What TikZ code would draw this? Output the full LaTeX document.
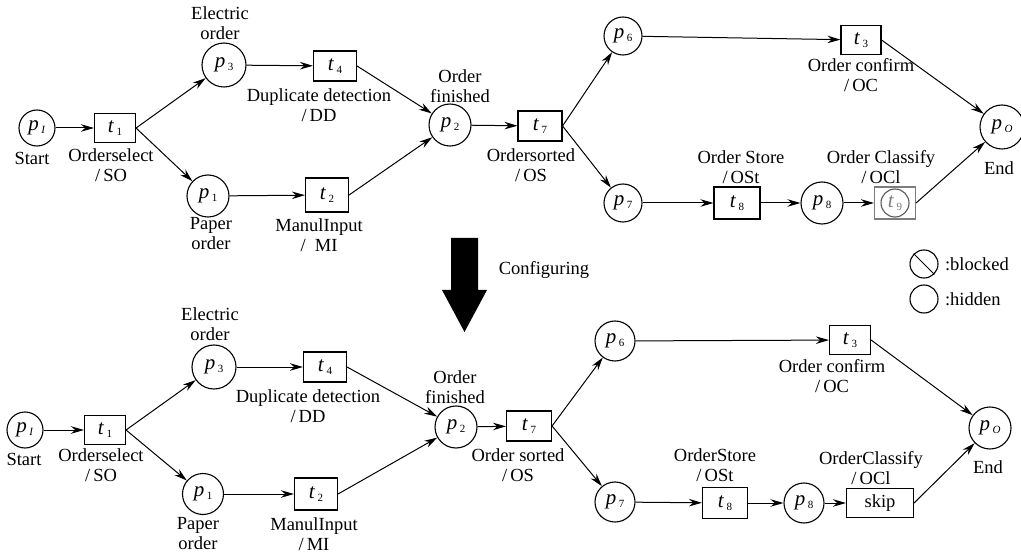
\documentclass[tikz,border=0pt]{standalone}
\usepackage{fontspec}
\setmainfont{Liberation Serif}
\usepackage{tikz}
\usetikzlibrary{arrows.meta,positioning,calc}
\definecolor{hiddengray}{RGB}{125,125,125}
\newcommand{\pn}[2]{\textit{\fontsize{21}{21}\selectfont #1}\kern2.5pt\raisebox{-3pt}{\fontsize{11}{11}\selectfont #2}}
\tikzset{
  place/.style={draw,circle,line width=1.1pt,minimum size=#1,inner sep=0pt},
  place/.default=40pt,
  trans/.style={draw,line width=1.1pt,minimum width=42pt,minimum height=30pt,inner sep=0pt},
  lab/.style={align=center,inner sep=0pt,font=\fontsize{18.5}{20}\selectfont},
  arc/.style={-{Stealth[length=13pt,width=7.5pt]},line width=1pt}
}
\begin{document}
\begin{tikzpicture}[x=1pt,y=-1pt,line width=1pt]
  \useasboundingbox (0,0) rectangle (1021,556);
  % upper net
  \node[place=36pt] (pi) at (37,128) {\pn{p}{\textit{I}}};
  \node[trans,minimum width=41pt,minimum height=29pt] (ta) at (115,128) {\pn{t}{1}};
  \node[place=44pt] (pc) at (224,65) {\pn{p}{3}};
  \node[trans,minimum width=43pt] (td) at (335,66) {\pn{t}{4}};
  \node[place=42pt] (pa) at (208,196) {\pn{p}{1}};
  \node[trans,minimum width=43pt,minimum height=34pt] (tb) at (327,195) {\pn{t}{2}};
  \node[place=42pt] (pb) at (450,125) {\pn{p}{2}};
  \node[trans,minimum width=44pt] (tg) at (540,126) {\pn{t}{7}};
  \node[place=38pt] (pf) at (623,36) {\pn{p}{6}};
  \node[place=38pt] (pg) at (623,203) {\pn{p}{7}};
  \node[trans,minimum width=40pt,minimum height=29pt] (tc) at (861,40) {\pn{t}{3}};
  \node[trans,minimum width=46pt,minimum height=32pt] (th) at (737,203) {\pn{t}{8}};
  \node[place=42pt] (ph) at (822,203) {\pn{p}{8}};
  \node[trans,draw=hiddengray,minimum width=41pt,minimum height=32pt] (ti) at (895,203) {};
  \node[place=28pt,draw=hiddengray!70!black,text=hiddengray] (tic) at (895,203) {\pn{t}{9}};
  \node[place=44pt] (po) at (1002,127) {\pn{p}{\textit{O}}};
  \draw[arc] (pi)--(ta);
  \draw[arc] (ta.east)--(pc);
  \draw[arc] (ta.east)--(pa);
  \draw[arc] (pc)--(td);
  \draw[arc] (pa)--(tb);
  \draw[arc] (td.east)--(pb);
  \draw[arc] (tb.east)--(pb);
  \draw[arc] (pb)--(tg);
  \draw[arc] (tg.east)--(pf);
  \draw[arc] (tg.east)--(pg);
  \draw[arc] (pf)--(tc);
  \draw[arc] (pg)--(th);
  \draw[arc] (th)--(ph);
  \draw[arc] (ph)--(ti);
  \draw[arc] (tc.east)--(po);
  \draw[arc] (ti.east)--(po);
  \node[lab] (lstart) at (32,158) {Start};
  \node[lab] (lta) at (111,165) {Orderselect\\/\,SO};
  \node[lab] (lpc) at (220,23) {Electric\\order};
  \node[lab] (ltd) at (319,105) {Duplicate detection\\/\,DD};
  \node[lab] (lpa) at (211,234) {Paper\\order};
  \node[lab] (ltb) at (319,235) {ManulInput\\/\ \ MI};
  \node[lab] (lpb) at (460,86) {Order\\finished};
  \node[lab] (ltg) at (531,165) {Ordersorted\\/\,OS};
  \node[lab] (ltc) at (861,75) {Order confirm\\/\,OC};
  \node[lab] (lth) at (741,167) {Order Store\\/\,OSt};
  \node[lab] (lti) at (881,167) {Order Classify\\/\,OCl};
  \node[lab] (lend) at (999,168) {End};
  % block arrow
  \fill (451,238)--(478,238)--(478,290)--(487,290)--(464.5,332)--(442,290)--(451,290)--cycle;
  \node[lab] (lconf) at (544,270) {Configuring};
  % legend
  \node[place=28pt] (bl) at (924,264) {};
  \draw (bl.135)--(bl.-45);
  \node[place=28pt] (hd) at (924,299) {};
  \node[lab,right=6pt of bl] (lbl) {:blocked};
  \node[lab,right=6pt of hd] (lhd) {:hidden};
  % lower net
  \node[place=36pt] (qi) at (25,430) {\pn{p}{\textit{I}}};
  \node[trans,minimum width=41pt,minimum height=29pt] (sa) at (105,430) {\pn{t}{1}};
  \node[place=44pt] (qc) at (214,367) {\pn{p}{3}};
  \node[trans,minimum width=43pt] (sd) at (325,367) {\pn{t}{4}};
  \node[place=41pt] (qa) at (203,494) {\pn{p}{1}};
  \node[trans,minimum width=43pt,minimum height=32pt] (sb) at (316,494) {\pn{t}{2}};
  \node[place=42pt] (qb) at (456,427) {\pn{p}{2}};
  \node[trans,minimum width=45pt] (sg) at (529,426) {\pn{t}{7}};
  \node[place=40pt] (qf) at (615,341) {\pn{p}{6}};
  \node[place=40pt] (qg) at (615,502) {\pn{p}{7}};
  \node[trans,minimum width=41pt,minimum height=29pt] (sc) at (850,340) {\pn{t}{3}};
  \node[trans,minimum width=45pt,minimum height=31pt] (sh) at (725,503) {\pn{t}{8}};
  \node[place=40pt] (qh) at (804,503) {\pn{p}{8}};
  \node[trans,minimum width=67pt,minimum height=29pt,font=\fontsize{18.5}{20}\selectfont] (si) at (880,503) {skip};
  \node[place=42pt] (qo) at (990,428) {\pn{p}{\textit{O}}};
  \draw[arc] (qi)--(sa);
  \draw[arc] (sa.east)--(qc);
  \draw[arc] (sa.east)--(qa);
  \draw[arc] (qc)--(sd);
  \draw[arc] (qa)--(sb);
  \draw[arc] (sd.east)--(qb);
  \draw[arc] (sb.east)--(qb);
  \draw[arc] (qb)--(sg);
  \draw[arc] (sg.east)--(qf);
  \draw[arc] (sg.east)--(qg);
  \draw[arc] (qf)--(sc);
  \draw[arc] (qg)--(sh);
  \draw[arc] (sh)--(qh);
  \draw[arc] (qh)--(si);
  \draw[arc] (sc.east)--(qo);
  \draw[arc] (si.east)--(qo);
  \node[lab] (mstart) at (24,459) {Start};
  \node[lab] (msa) at (101,465) {Orderselect\\/\,SO};
  \node[lab] (mqc) at (210,324) {Electric\\order};
  \node[lab] (msd) at (308,406) {Duplicate detection\\/\,DD};
  \node[lab] (mqa) at (198,534) {Paper\\order};
  \node[lab] (msb) at (314,534) {ManulInput\\/\,MI};
  \node[lab] (mqb) at (455,387) {Order\\finished};
  \node[lab] (msg) at (518,465) {Order sorted\\/\,OS};
  \node[lab] (msc) at (832,376) {Order confirm\\/\,OC};
  \node[lab] (msh) at (715,465) {OrderStore\\/\,OSt};
  \node[lab] (msi) at (871,468) {OrderClassify\\/\,OCl};
  \node[lab] (mend) at (988,467) {End};
\end{tikzpicture}
\end{document}
